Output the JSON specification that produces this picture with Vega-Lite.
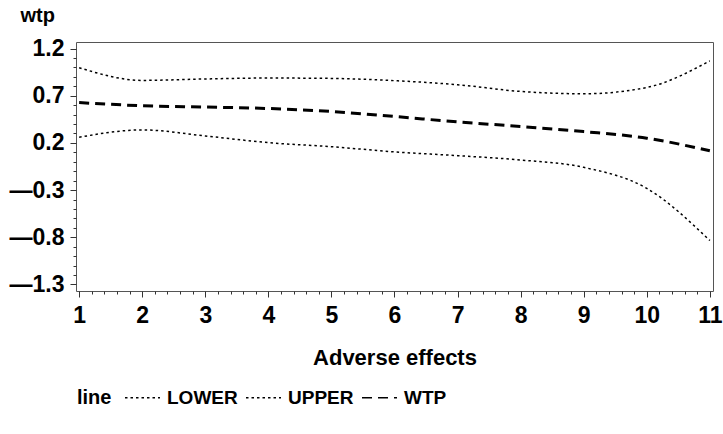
{
  "$schema": "https://vega.github.io/schema/vega-lite/v6.json",
  "width": 637,
  "height": 249,
  "autosize": {"type": "none"},
  "padding": {"left": 76, "top": 42, "right": 10, "bottom": 143},
  "background": "white",
  "config": {
    "view": {"stroke": "#555555", "strokeWidth": 1},
    "font": "Liberation Sans",
    "axis": {"labelFont": "Liberation Sans", "titleFont": "Liberation Sans", "labelFontWeight": "bold", "titleFontWeight": "bold", "labelColor": "black", "titleColor": "black", "tickColor": "#333333", "grid": false, "domain": false}
  },
  "data": {
    "values": [
      {"x": 1, "line": "LOWER", "wtp": 0.26},
      {"x": 2, "line": "LOWER", "wtp": 0.338},
      {"x": 3, "line": "LOWER", "wtp": 0.274},
      {"x": 4, "line": "LOWER", "wtp": 0.203},
      {"x": 5, "line": "LOWER", "wtp": 0.16},
      {"x": 6, "line": "LOWER", "wtp": 0.105},
      {"x": 7, "line": "LOWER", "wtp": 0.065},
      {"x": 8, "line": "LOWER", "wtp": 0.019},
      {"x": 9, "line": "LOWER", "wtp": -0.059},
      {"x": 10, "line": "LOWER", "wtp": -0.282},
      {"x": 11, "line": "LOWER", "wtp": -0.835},
      {"x": 1, "line": "UPPER", "wtp": 0.997},
      {"x": 2, "line": "UPPER", "wtp": 0.863},
      {"x": 3, "line": "UPPER", "wtp": 0.878},
      {"x": 4, "line": "UPPER", "wtp": 0.888},
      {"x": 5, "line": "UPPER", "wtp": 0.884},
      {"x": 6, "line": "UPPER", "wtp": 0.86},
      {"x": 7, "line": "UPPER", "wtp": 0.817},
      {"x": 8, "line": "UPPER", "wtp": 0.746},
      {"x": 9, "line": "UPPER", "wtp": 0.721},
      {"x": 10, "line": "UPPER", "wtp": 0.788},
      {"x": 11, "line": "UPPER", "wtp": 1.07},
      {"x": 1, "line": "WTP", "wtp": 0.628},
      {"x": 2, "line": "WTP", "wtp": 0.594},
      {"x": 3, "line": "WTP", "wtp": 0.58},
      {"x": 4, "line": "WTP", "wtp": 0.565},
      {"x": 5, "line": "WTP", "wtp": 0.533},
      {"x": 6, "line": "WTP", "wtp": 0.48},
      {"x": 7, "line": "WTP", "wtp": 0.423},
      {"x": 8, "line": "WTP", "wtp": 0.374},
      {"x": 9, "line": "WTP", "wtp": 0.32},
      {"x": 10, "line": "WTP", "wtp": 0.25},
      {"x": 11, "line": "WTP", "wtp": 0.117}
    ]
  },
  "mark": {"type": "line", "interpolate": "monotone", "color": "black", "clip": true},
  "encoding": {
    "x": {
      "field": "x", "type": "quantitative",
      "scale": {"domain": [0.95, 11.05], "nice": false, "zero": false},
      "axis": {
        "title": "Adverse  effects",
        "titleFontSize": 22,
        "titlePadding": 20,
        "labelFontSize": 23,
        "labelPadding": 7,
        "labelFlush": false,
        "labelOverlap": false,
        "values": [1,1.2,1.4,1.6,1.8,2,2.2,2.4,2.6,2.8,3,3.2,3.4,3.6,3.8,4,4.2,4.4,4.6,4.8,5,5.2,5.4,5.6,5.8,6,6.2,6.4,6.6,6.8,7,7.2,7.4,7.6,7.8,8,8.2,8.4,8.6,8.8,9,9.2,9.4,9.6,9.8,10,10.2,10.4,10.6,10.8,11],
        "labelExpr": "abs(datum.value - round(datum.value)) < 0.01 ? format(datum.value, 'd') : ''",
        "tickSize": {"condition": {"test": "abs(datum.value - round(datum.value)) < 0.01", "value": 6}, "value": 3}
      }
    },
    "y": {
      "field": "wtp", "type": "quantitative",
      "scale": {"domain": [-1.37, 1.27], "nice": false, "zero": false},
      "axis": {
        "title": "wtp",
        "titleAngle": 0,
        "titleFontSize": 20,
        "titleAlign": "left",
        "titleBaseline": "alphabetic",
        "titleX": -56,
        "titleY": -21,
        "labelFontSize": 23,
        "labelPadding": 6,
        "labelOverlap": false,
        "values": [1.2,1.1,1,0.9,0.8,0.7,0.6,0.5,0.4,0.3,0.2,0.1,0,-0.1,-0.2,-0.3,-0.4,-0.5,-0.6,-0.7,-0.8,-0.9,-1,-1.1,-1.2,-1.3],
        "labelExpr": "abs((datum.value + 1.3) * 2 - round((datum.value + 1.3) * 2)) < 0.01 ? ((datum.value < -0.001 ? '—' : '') + format(abs(datum.value), '.1f')) : ''",
        "tickSize": {"condition": {"test": "abs((datum.value + 1.3) * 2 - round((datum.value + 1.3) * 2)) < 0.01", "value": 6}, "value": 3}
      }
    },
    "strokeDash": {
      "field": "line", "type": "nominal",
      "scale": {"domain": ["LOWER", "UPPER", "WTP"], "range": [[2.5, 3], [2.5, 3], [10, 6]]},
      "legend": {
        "title": "line",
        "orient": "none",
        "legendX": 1,
        "legendY": 337,
        "direction": "horizontal",
        "titleOrient": "left",
        "titleAnchor": "end",
        "titleFont": "Liberation Sans",
        "titleFontWeight": "bold",
        "titleFontSize": 20,
        "titleColor": "black",
        "titlePadding": 12,
        "titleBaseline": "bottom",
        "labelFont": "Liberation Sans",
        "labelFontWeight": "bold",
        "labelFontSize": 19,
        "labelColor": "black",
        "labelOffset": 6,
        "columnPadding": 5,
        "symbolType": "stroke",
        "symbolSize": 1225,
        "symbolStrokeWidth": 1.5,
        "symbolStrokeColor": "black"
      }
    },
    "strokeWidth": {
      "condition": {"test": "datum.line === 'WTP'", "value": 3},
      "value": 1.5
    }
  }
}
